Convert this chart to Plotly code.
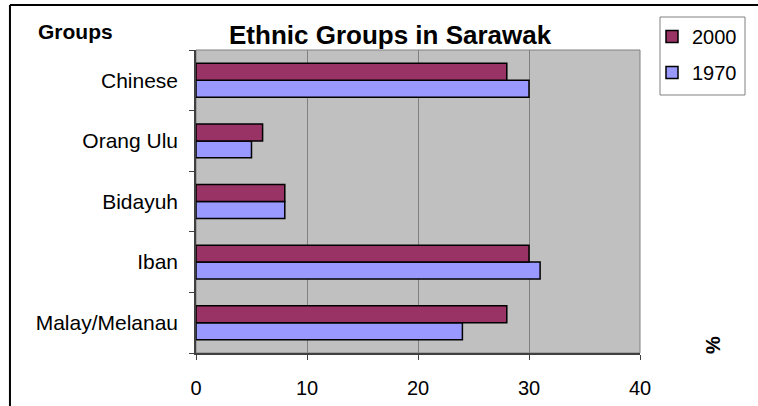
import plotly.graph_objects as go

categories = ["Malay/Melanau", "Iban", "Bidayuh", "Orang Ulu", "Chinese"]
values_1970 = [24, 31, 8, 5, 30]
values_2000 = [28, 30, 8, 6, 28]
x_ticks = [0, 10, 20, 30, 40]

FONT = "Liberation Sans, Arial, sans-serif"

fig = go.Figure()
fig.add_trace(go.Bar(
    y=categories, x=values_1970, name="1970", orientation="h",
    marker=dict(color="#9999FF", line=dict(color="black", width=1.5)),
    legendgroup="g1970", legendrank=2,
))
fig.add_trace(go.Bar(
    y=categories, x=values_2000, name="2000", orientation="h",
    marker=dict(color="#993366", line=dict(color="black", width=1.5)),
    legendgroup="g2000", legendrank=1,
))

fig.update_layout(
    width=758, height=406,
    margin=dict(l=196, r=118, t=50, b=53, autoexpand=False),
    paper_bgcolor="white",
    plot_bgcolor="#C0C0C0",
    barmode="group",
    bargap=0.44,
    bargroupgap=0,
    font=dict(family=FONT, size=20, color="black"),
    showlegend=True,
    legend=dict(
        xref="container", yref="container",
        x=652 / 758, y=1 - 17 / 406, xanchor="left", yanchor="top",
        traceorder="grouped",
        tracegroupgap=7,
        borderwidth=0,
        bgcolor="rgba(0,0,0,0)",
        font=dict(family=FONT, size=20),
        itemwidth=30,
    ),
    xaxis=dict(
        range=[0, 40], tickvals=x_ticks,
        showgrid=True, gridcolor="#808080", gridwidth=1,
        zeroline=False,
        showline=True, linecolor="#404040", linewidth=1.5,
        ticks="outside", ticklen=5, tickcolor="#404040",
        tickfont=dict(family=FONT, size=20),
        ticklabelstandoff=11,
        fixedrange=True,
    ),
    yaxis=dict(
        type="category",
        categoryorder="array", categoryarray=categories,
        range=[-0.5, 4.5],
        showgrid=False,
        showline=True, linecolor="#404040", linewidth=1.5,
        ticks="outside", ticklen=5, tickcolor="#404040",
        tickson="boundaries",
        tickfont=dict(family=FONT, size=21),
        ticklabelstandoff=12,
        fixedrange=True,
    ),
    shapes=[
        dict(type="rect", xref="paper", yref="paper", x0=0, x1=1, y0=0, y1=1,
             line=dict(color="#808080", width=1), layer="below"),
        dict(type="line", xref="paper", yref="paper",
             x0=-0.419, x1=-0.419, y0=1.1485, y1=-0.3,
             line=dict(color="black", width=2)),
        dict(type="line", xref="paper", yref="paper",
             x0=-0.419, x1=1.3, y0=1.1485, y1=1.1485,
             line=dict(color="black", width=2)),
        # legend frame
        dict(type="rect", xref="paper", yref="paper",
             x0=(660 - 196) / 444, x1=(745 - 196) / 444,
             y0=(353 - 95) / 303, y1=(353 - 17) / 303,
             line=dict(color="#808080", width=1), fillcolor="rgba(0,0,0,0)"),
    ],
    annotations=[
        dict(text="<b>Ethnic Groups in Sarawak</b>", xref="paper", yref="paper",
             x=(390 - 196) / 444, y=(353 - 35) / 303, xanchor="center", yanchor="middle",
             showarrow=False, font=dict(family=FONT, size=26)),
        dict(text="<b>Groups</b>", xref="paper", yref="paper",
             x=(36 - 196) / 444, y=(353 - 32) / 303, xanchor="left", yanchor="middle",
             showarrow=False, font=dict(family=FONT, size=21)),
        dict(text="<b>%</b>", xref="paper", yref="paper",
             x=(713 - 196) / 444, y=(353 - 345) / 303, xanchor="center", yanchor="middle",
             showarrow=False, textangle=-90, font=dict(family=FONT, size=20)),
    ],
)

fig.write_html("out.html")
